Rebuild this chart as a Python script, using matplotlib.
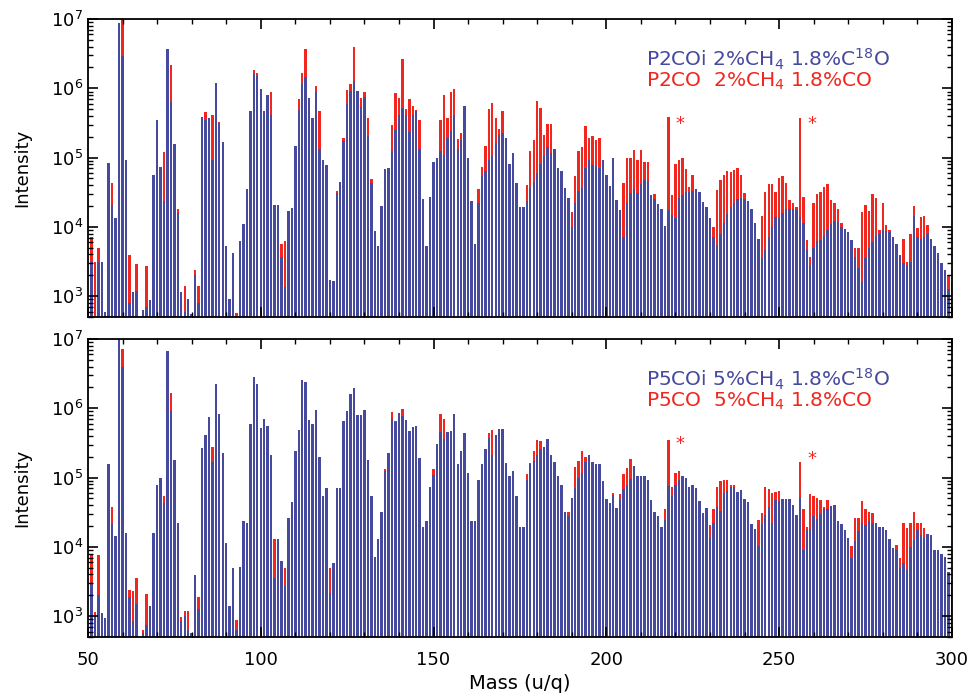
import numpy as np
import matplotlib
matplotlib.use("Agg")
import matplotlib.pyplot as plt
from matplotlib.ticker import MultipleLocator, LogLocator, NullFormatter

# masses 50..300 (u/q), one bar per integer mass
mass = np.arange(50, 301)

# log10(intensity), 10 values per row starting at the mass in the comment
p2coi_log = [
    2.7, 3.5, 2.7, 3.5, 3.5, 2.77, 4.92, 4.32, 4.13, 6.95,          # 50
    6.47, 4.96, 2.9, 3.06, 3.07, 2.7, 2.8, 2.85, 2.95, 4.75,        # 60
    5.54, 4.86, 4.37, 6.57, 5.8, 5.2, 4.2, 3.06, 2.77, 2.96,        # 70
    2.74, 3.3, 2.9, 5.59, 5.55, 5.57, 4.97, 6.07, 5.5, 5.22,        # 80
    3.72, 2.96, 3.62, 2.7, 3.8, 4.04, 4.54, 5.67, 6.2, 6.18,        # 90
    5.99, 5.67, 5.91, 5.62, 4.32, 4.32, 3.57, 3.13, 4.23, 4.27,     # 100
    5.17, 5.69, 6.06, 6.16, 5.86, 5.57, 5.94, 5.12, 4.97, 4.9,      # 110
    3.23, 3.22, 4.49, 4.65, 5.24, 5.77, 5.96, 6.1, 5.96, 5.73,      # 120
    5.87, 5.31, 4.63, 3.94, 3.72, 4.3, 4.84, 4.85, 5.1, 5.4,        # 130
    5.62, 5.71, 5.61, 5.37, 5.62, 5.68, 5.13, 4.4, 3.72, 4.43,      # 140
    4.94, 5.0, 5.1, 5.04, 5.29, 5.38, 5.61, 5.12, 5.25, 5.75,       # 150
    5.0, 4.37, 3.76, 4.35, 4.73, 4.81, 4.97, 5.02, 5.21, 5.32,      # 160
    5.35, 5.29, 4.91, 5.06, 4.63, 4.28, 4.28, 4.38, 4.56, 4.65,     # 170
    4.78, 4.91, 5.03, 5.15, 5.06, 5.12, 4.85, 4.8, 4.56, 4.42,      # 180
    4.0, 4.35, 4.52, 4.56, 4.85, 4.97, 4.89, 4.88, 4.85, 4.96,      # 190
    4.75, 4.59, 4.99, 4.39, 4.25, 3.85, 4.34, 4.49, 4.55, 4.49,     # 200
    4.62, 4.68, 4.66, 4.46, 4.4, 4.33, 4.26, 4.02, 4.25, 4.17,      # 210
    4.13, 4.42, 4.46, 4.5, 4.51, 4.52, 4.55, 4.51, 4.36, 4.28,      # 220
    4.13, 3.86, 3.74, 3.9, 4.05, 4.19, 4.28, 4.35, 4.4, 4.42,       # 230
    4.4, 4.38, 4.26, 4.05, 3.82, 3.55, 3.67, 3.86, 4.0, 4.15,       # 240
    4.13, 4.2, 4.26, 4.26, 4.26, 4.25, 4.15, 4.05, 3.67, 3.43,      # 250
    3.7, 3.79, 3.81, 3.87, 3.96, 4.04, 4.08, 4.07, 4.0, 3.97,       # 260
    3.92, 3.81, 3.57, 3.4, 3.2, 3.55, 3.7, 3.78, 3.87, 3.9,         # 270
    3.96, 3.94, 3.93, 3.86, 3.75, 3.6, 3.48, 3.45, 3.5, 4.16,       # 280
    3.85, 3.82, 3.85, 3.9, 3.82, 3.72, 3.62, 3.48, 3.38, 3.1,       # 290
    3.0,                                                            # 300
]
p2co_log = [
    2.7, 3.85, 3.5, 3.7, 3.5, 2.77, 4.92, 4.63, 4.13, 6.7,          # 50
    7.0, 4.9, 3.6, 2.85, 3.46, 2.7, 2.73, 3.43, 2.95, 4.75,         # 60
    5.5, 4.86, 5.08, 6.5, 6.33, 5.2, 4.26, 2.9, 3.15, 2.8,          # 70
    2.74, 3.38, 3.14, 5.59, 5.66, 5.55, 5.61, 6.05, 5.52, 5.2,      # 80
    3.7, 2.9, 3.6, 2.75, 3.78, 4.0, 4.5, 5.65, 6.26, 6.22,          # 90
    5.95, 5.65, 5.9, 5.95, 4.3, 4.3, 3.75, 3.79, 4.2, 4.25,         # 100
    5.15, 5.84, 6.22, 6.57, 5.85, 5.55, 6.04, 5.68, 4.95, 4.88,     # 110
    3.2, 3.2, 4.52, 4.6, 5.29, 5.98, 6.06, 6.6, 5.95, 5.86,         # 120
    5.94, 5.57, 4.69, 3.9, 3.7, 4.28, 4.82, 4.83, 5.47, 5.93,       # 130
    5.86, 6.42, 5.7, 5.84, 5.75, 5.69, 5.54, 4.38, 3.7, 4.4,        # 140
    4.9, 4.98, 5.55, 5.91, 5.57, 5.94, 5.99, 5.27, 5.35, 5.72,      # 150
    4.98, 4.35, 3.74, 4.54, 4.86, 5.17, 5.7, 5.79, 5.57, 5.42,      # 160
    5.68, 5.27, 4.9, 5.04, 4.6, 4.26, 4.26, 4.6, 5.1, 5.26,         # 170
    5.81, 5.72, 5.33, 5.48, 5.49, 5.1, 4.83, 4.78, 4.54, 4.4,       # 180
    4.22, 4.73, 5.09, 5.16, 5.45, 5.28, 5.31, 5.26, 5.28, 4.94,     # 190
    4.73, 4.57, 4.97, 4.37, 4.23, 4.64, 5.0, 5.0, 5.11, 4.97,       # 200
    5.11, 4.93, 4.94, 4.44, 4.48, 4.31, 4.24, 4.0, 5.58, 4.46,      # 210
    4.91, 4.96, 5.0, 4.84, 4.58, 4.75, 4.53, 4.49, 4.34, 4.26,      # 220
    4.11, 4.0, 4.53, 4.68, 4.75, 4.8, 4.79, 4.82, 4.85, 4.75,       # 230
    4.49, 4.36, 4.24, 4.03, 3.8, 4.16, 4.5, 4.62, 4.62, 4.5,        # 240
    4.71, 4.73, 4.63, 4.39, 4.35, 4.28, 5.57, 4.43, 3.81, 3.57,     # 250
    4.35, 4.47, 4.51, 4.57, 4.62, 4.39, 4.35, 4.26, 4.06, 3.95,     # 260
    3.9, 3.79, 3.7, 3.69, 4.22, 4.32, 4.23, 4.47, 4.41, 3.95,       # 270
    4.35, 4.03, 3.95, 3.86, 3.73, 3.58, 3.82, 3.5, 3.9, 4.3,        # 280
    3.98, 4.15, 4.16, 4.03, 3.8, 3.7, 3.6, 3.46, 3.36, 3.3,         # 290
    3.2,                                                            # 300
]
p5coi_log = [
    2.7, 3.47, 3.0, 3.3, 3.04, 2.97, 5.2, 4.33, 4.16, 7.0,          # 50
    6.59, 4.2, 3.28, 2.93, 3.17, 2.7, 2.75, 2.87, 3.14, 4.2,        # 60
    4.9, 4.99, 4.63, 6.82, 5.96, 5.25, 4.35, 2.93, 3.0, 2.8,        # 70
    2.75, 3.6, 3.11, 5.43, 5.61, 5.88, 5.22, 6.35, 5.92, 5.36,      # 80
    4.05, 3.14, 3.69, 2.8, 3.71, 4.38, 4.35, 5.78, 6.45, 6.35,      # 90
    5.72, 5.85, 5.75, 5.32, 3.55, 4.11, 3.79, 3.43, 4.41, 4.65,     # 100
    5.38, 5.68, 6.41, 6.38, 5.83, 5.78, 5.98, 5.29, 4.74, 4.85,     # 110
    3.33, 3.76, 4.85, 4.85, 5.82, 5.96, 6.2, 6.3, 5.9, 5.91,        # 120
    5.97, 5.25, 4.74, 3.86, 4.12, 4.5, 5.09, 5.35, 5.85, 5.8,       # 130
    5.93, 5.89, 5.83, 5.67, 5.73, 5.75, 5.28, 4.29, 4.37, 4.87,     # 140
    5.04, 5.48, 5.66, 5.56, 5.66, 5.67, 5.92, 5.2, 5.39, 5.65,      # 150
    5.06, 4.37, 4.38, 4.97, 5.2, 5.41, 5.57, 5.33, 5.61, 5.7,       # 160
    5.7, 5.21, 5.02, 5.09, 4.74, 4.29, 4.29, 4.96, 5.19, 5.24,      # 170
    5.33, 5.41, 5.44, 5.55, 5.32, 5.23, 5.03, 4.9, 4.51, 4.44,      # 180
    4.71, 4.85, 4.99, 5.07, 5.22, 5.33, 5.22, 5.19, 5.19, 4.95,     # 190
    4.69, 4.64, 4.75, 4.56, 4.68, 4.84, 4.9, 4.98, 5.17, 5.03,      # 200
    5.03, 5.03, 4.97, 4.68, 4.5, 4.44, 4.29, 4.39, 4.88, 4.73,      # 210
    4.9, 4.97, 5.02, 4.99, 4.86, 4.9, 4.85, 4.66, 4.49, 4.56,       # 220
    4.13, 4.34, 4.58, 4.52, 4.78, 4.8, 4.86, 4.86, 4.79, 4.82,      # 230
    4.69, 4.65, 4.33, 4.26, 4.01, 4.33, 4.46, 4.58, 4.35, 4.68,     # 240
    4.66, 4.69, 4.69, 4.69, 4.61, 4.46, 4.71, 3.96, 4.25, 4.26,     # 250
    4.45, 4.4, 4.48, 4.55, 4.54, 4.59, 4.61, 4.37, 4.33, 4.25,      # 260
    4.13, 3.84, 4.09, 4.23, 4.34, 4.31, 4.37, 4.35, 4.34, 4.29,     # 270
    4.28, 4.25, 4.11, 3.98, 3.96, 3.69, 3.76, 3.67, 4.0, 4.1,       # 280
    4.25, 4.17, 4.13, 4.19, 4.17, 3.96, 3.95, 3.9, 3.86, 3.64,      # 290
    3.5,                                                            # 300
]
p5co_log = [
    2.7, 3.9, 3.06, 3.88, 3.0, 2.95, 5.18, 4.58, 4.14, 6.9,         # 50
    6.86, 4.18, 3.38, 3.36, 3.55, 2.7, 2.8, 3.32, 3.1, 4.18,        # 60
    4.88, 4.97, 4.74, 6.8, 6.22, 5.23, 4.33, 2.99, 3.07, 3.07,      # 70
    2.75, 3.58, 3.28, 5.41, 5.59, 5.86, 5.44, 6.33, 5.9, 5.34,      # 80
    4.03, 3.12, 3.67, 2.94, 3.69, 4.36, 4.33, 5.76, 6.43, 6.33,     # 90
    5.7, 5.83, 5.73, 5.3, 4.11, 4.09, 3.8, 3.7, 4.39, 4.63,         # 100
    5.36, 5.66, 6.39, 6.22, 5.81, 5.76, 5.96, 5.27, 4.72, 4.83,     # 110
    3.7, 3.74, 4.83, 4.83, 5.8, 5.94, 6.18, 6.28, 5.88, 5.89,       # 120
    5.95, 5.23, 4.72, 3.84, 4.1, 4.48, 5.13, 5.33, 5.94, 5.81,      # 130
    5.91, 5.99, 5.81, 5.65, 5.71, 5.73, 5.26, 4.27, 4.35, 4.85,     # 140
    5.13, 5.46, 5.92, 5.85, 5.64, 5.65, 5.9, 5.18, 5.37, 5.63,      # 150
    5.04, 4.35, 4.36, 4.95, 5.18, 5.39, 5.64, 5.68, 5.59, 5.68,     # 160
    5.68, 5.19, 5.0, 5.07, 4.72, 4.27, 4.27, 5.05, 5.21, 5.38,      # 170
    5.54, 5.53, 5.42, 5.53, 5.3, 5.21, 5.01, 4.88, 4.49, 4.5,       # 180
    4.69, 5.15, 5.24, 5.39, 5.3, 5.31, 5.2, 5.17, 5.17, 4.93,       # 190
    4.67, 4.62, 4.78, 4.54, 4.77, 5.05, 5.14, 5.27, 5.15, 5.01,     # 200
    5.01, 5.01, 4.95, 4.66, 4.48, 4.42, 4.27, 4.54, 5.54, 4.87,     # 210
    5.07, 5.1, 5.0, 4.97, 4.84, 4.88, 4.83, 4.64, 4.47, 4.54,       # 220
    4.32, 4.54, 4.86, 4.95, 4.97, 4.96, 4.9, 4.9, 4.77, 4.8,        # 230
    4.67, 4.63, 4.31, 4.24, 4.39, 4.49, 4.86, 4.84, 4.78, 4.79,     # 240
    4.8, 4.67, 4.67, 4.67, 4.59, 4.44, 5.23, 4.54, 4.29, 4.76,      # 250
    4.73, 4.71, 4.68, 4.58, 4.68, 4.57, 4.59, 4.35, 4.31, 4.23,     # 260
    4.11, 4.01, 4.41, 4.41, 4.66, 4.55, 4.5, 4.49, 4.32, 4.27,      # 270
    4.26, 4.23, 4.09, 3.96, 4.03, 3.84, 4.35, 4.27, 4.35, 4.5,      # 280
    4.35, 4.35, 4.27, 4.17, 4.15, 3.94, 3.93, 3.88, 3.84, 3.57,     # 290
    3.48,                                                           # 300
]

top_labels = [r"P2COi 2%CH$_4$ 1.8%C$^{18}$O", r"P2CO  2%CH$_4$ 1.8%CO"]
bottom_labels = [r"P5COi 5%CH$_4$ 1.8%C$^{18}$O", r"P5CO  5%CH$_4$ 1.8%CO"]

BLUE = "#464a9e"
RED = "#f0261f"

fig = plt.figure(figsize=(9.74, 6.98), dpi=100)
ax_top = fig.add_axes([0.0903, 0.5458, 0.887, 0.4269])
ax_bot = fig.add_axes([0.0903, 0.0874, 0.887, 0.4269])

panels = [
    (ax_top, p2coi_log, p2co_log, top_labels, [5.48, 5.48]),
    (ax_bot, p5coi_log, p5co_log, bottom_labels, [5.48, 5.27]),
]

for ax, blue_log, red_log, labels, star_y in panels:
    blue = 10 ** np.array(blue_log)
    red = 10 ** np.array(red_log)
    ax.bar(mass, red - 1, bottom=1, width=0.7, color=RED, linewidth=0)
    ax.bar(mass, blue - 1, bottom=1, width=0.7, color=BLUE, linewidth=0)
    ax.set_yscale("log")
    ax.set_xlim(50, 300)
    ax.set_ylim(500, 1e7)
    ax.set_ylabel("Intensity", fontsize=13)
    ax.yaxis.set_label_coords(-0.066, 0.5)
    ax.xaxis.set_major_locator(MultipleLocator(50))
    ax.xaxis.set_minor_locator(MultipleLocator(10))
    ax.yaxis.set_major_locator(LogLocator(base=10))
    ax.yaxis.set_minor_locator(LogLocator(base=10, subs=np.arange(2, 10)))
    ax.yaxis.set_minor_formatter(NullFormatter())
    ax.tick_params(which="both", direction="in", top=True, right=True, labelsize=13)
    ax.tick_params(axis="x", which="both", pad=10)
    ax.tick_params(which="major", length=7, width=1.2)
    ax.tick_params(which="minor", length=3.5, width=1.0)
    for sp in ax.spines.values():
        sp.set_linewidth(1.3)
    ax.text(0.646, 0.865, labels[0], transform=ax.transAxes, color=BLUE, fontsize=14.5, va="center")
    ax.text(0.646, 0.79, labels[1], transform=ax.transAxes, color=RED, fontsize=14.5, va="center")
    ax.text(221.3, 10 ** star_y[0], "*", color=RED, fontsize=13, ha="center", va="center")
    ax.text(259.5, 10 ** star_y[1], "*", color=RED, fontsize=13, ha="center", va="center")

ax_top.tick_params(labelbottom=False)
ax_bot.set_xlabel("Mass (u/q)", fontsize=14, labelpad=4)

fig.savefig("out.png", dpi=100)
